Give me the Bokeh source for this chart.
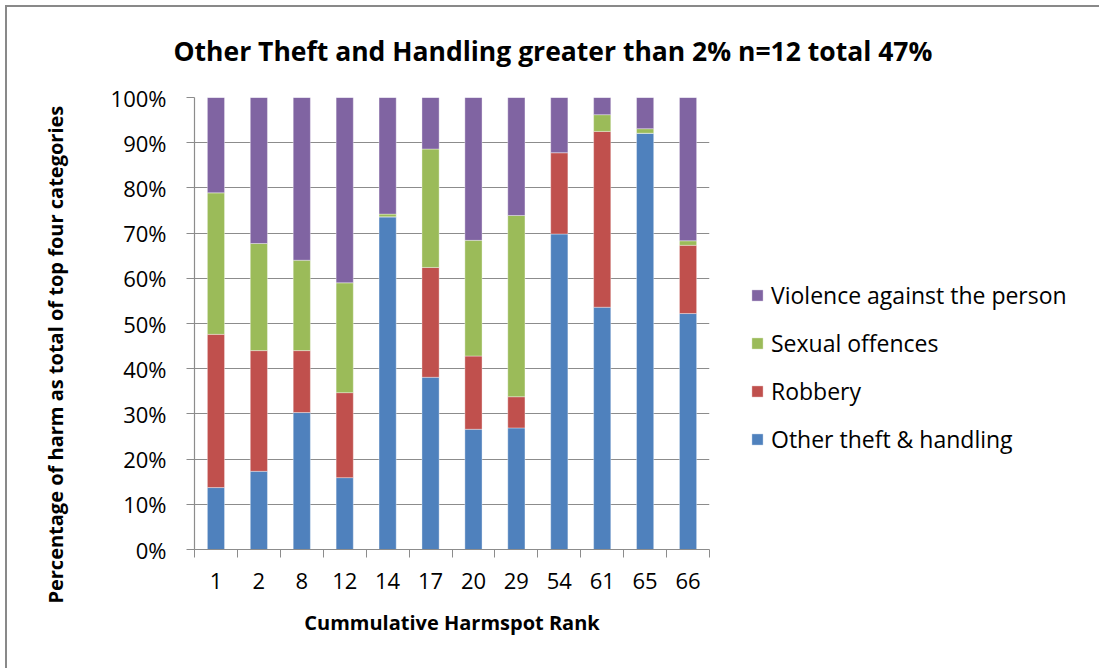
import numpy as np
from bokeh.plotting import figure
from bokeh.models import (ColumnDataSource, Range1d, FixedTicker, PrintfTickFormatter,
                          Legend, LegendItem)
from bokeh.embed import file_html
from bokeh.resources import INLINE

ranks = ["1", "2", "8", "12", "14", "17", "20", "29", "54", "61", "65", "66"]
other_theft = [13.7, 17.3, 30.3, 15.9, 73.6, 38.1, 26.6, 26.9, 69.8, 53.6, 92.1, 52.2]
robbery = [33.9, 26.7, 13.7, 18.8, 0.0, 24.3, 16.2, 6.9, 18.0, 38.9, 0.0, 15.1]
sexual = [31.3, 23.7, 20.0, 24.3, 0.6, 26.2, 25.6, 40.1, 0.0, 3.7, 1.0, 1.0]
violence = [21.1, 32.3, 36.0, 41.0, 25.8, 11.4, 31.6, 26.1, 12.2, 3.8, 6.9, 31.7]

series_names = ["Other theft & handling", "Robbery", "Sexual offences", "Violence against the person"]
colors = ["#4F81BD", "#C0504D", "#9BBB59", "#8064A2"]
keys = ["other", "robbery", "sexual", "violence"]

n = len(ranks)
xs = np.arange(n) + 0.5
src = ColumnDataSource(dict(x=xs, other=other_theft, robbery=robbery, sexual=sexual, violence=violence))

FONT = "Open Sans"
GRID = "#8C8C8C"
p = figure(frame_width=515, frame_height=452, output_backend="svg", toolbar_location=None,
           x_range=Range1d(0, n), y_range=Range1d(0, 100),
           min_border_left=194, min_border_right=390, min_border_top=97,
           min_border_bottom=119)
p.outline_line_color = None
p.background_fill_color = "white"
p.border_fill_alpha = 0
p.styles = {
    "background": ("linear-gradient(#898989,#898989) 5px 5px / 2px calc(100% - 5px) no-repeat, "
                   "linear-gradient(#898989,#898989) 5px 5px / calc(100% - 5px) 2px no-repeat, white")
}

renderers = p.vbar_stack(keys, x="x", width=0.4, source=src, color=colors,
                         line_color="white", line_width=0.6, line_alpha=0.6)

# title
p.title.text = "Other Theft and Handling greater than 2% n=12 total 47%"
p.title.text_font = FONT
p.title.text_font_style = "bold"
p.title.text_font_size = "26.5px"
p.title.text_color = "black"
p.title.align = "left"
p.title.offset = -21
p.title.standoff = 57

# grid
p.xgrid.visible = False
p.ygrid.ticker = FixedTicker(ticks=list(range(0, 101, 10)))
p.ygrid.grid_line_color = GRID
p.ygrid.grid_line_width = 1.2

# y axis
p.yaxis.ticker = FixedTicker(ticks=list(range(0, 101, 10)))
p.yaxis.formatter = PrintfTickFormatter(format="%d%%")
p.yaxis.major_tick_in = 0
p.yaxis.major_tick_out = 8
p.yaxis.minor_tick_line_color = None
p.yaxis.axis_line_color = GRID
p.yaxis.major_tick_line_color = GRID
p.yaxis.axis_line_width = 1.2
p.yaxis.major_label_text_font = FONT
p.yaxis.major_label_text_font_size = "22px"
p.yaxis.major_label_text_color = "black"
p.yaxis.major_label_standoff = 20
p.yaxis.axis_label = "Percentage of harm as total of top four categories" + "\u00a0" * 12
p.yaxis.axis_label_text_font = FONT
p.yaxis.axis_label_text_font_style = "bold"
p.yaxis.axis_label_text_font_size = "20px"
p.yaxis.axis_label_text_color = "black"
p.yaxis.axis_label_standoff = 39

# x axis
p.xaxis.ticker = FixedTicker(ticks=list(xs), minor_ticks=list(range(0, n + 1)))
p.xaxis.major_label_overrides = {float(x): r for x, r in zip(xs, ranks)}
p.xaxis.major_tick_line_color = None
p.xaxis.minor_tick_in = 0
p.xaxis.minor_tick_out = 8
p.xaxis.minor_tick_line_color = GRID
p.xaxis.axis_line_color = GRID
p.xaxis.axis_line_width = 1.2
p.xaxis.major_label_text_font = FONT
p.xaxis.major_label_text_font_size = "22px"
p.xaxis.major_label_text_color = "black"
p.xaxis.major_label_standoff = 15
p.xaxis.axis_label = "Cummulative Harmspot Rank"
p.xaxis.axis_label_text_font = FONT
p.xaxis.axis_label_text_font_style = "bold"
p.xaxis.axis_label_text_font_size = "20px"
p.xaxis.axis_label_text_color = "black"
p.xaxis.axis_label_standoff = 17

items = [LegendItem(label=series_names[i], renderers=[renderers[i]]) for i in [3, 2, 1, 0]]
legend = Legend(items=items, location=(41, 94), orientation="vertical",
                glyph_width=14, glyph_height=14, label_height=26, spacing=16,
                label_standoff=7, padding=0, margin=0,
                label_text_font=FONT, label_text_font_size="23px", label_text_color="black",
                border_line_color=None, background_fill_alpha=0)
p.add_layout(legend, "right")

open("out.html", "w").write(file_html(p, INLINE))
